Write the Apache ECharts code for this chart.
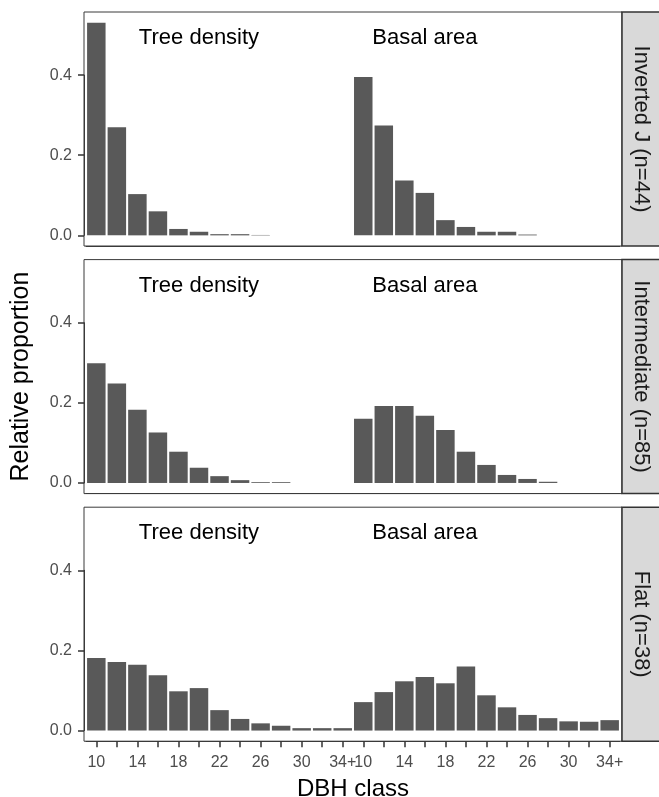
<!DOCTYPE html>
<html>
<head>
<meta charset="utf-8">
<script src="https://cdn.jsdelivr.net/npm/echarts@6/dist/echarts.min.js"></script>
<style>
  html, body { margin: 0; padding: 0; background: #fff; }
  #chart { width: 659px; height: 797px; }
</style>
</head>
<body>
<div id="chart"></div>
<script>
// DBH classes, repeated once for tree density and once for basal area
const dbhClasses = ['10', '12', '14', '16', '18', '20', '22', '24', '26', '28', '30', '32', '34+'];
const xLabels = dbhClasses.concat(dbhClasses);

const stripLabels = ['Inverted J (n=44)', 'Intermediate (n=85)', 'Flat (n=38)'];
const annoLabels = ['Tree density', 'Basal area'];
const yTicks = [0, 0.2, 0.4];

const invTree = [0.531, 0.270, 0.103, 0.060, 0.016, 0.009, 0.003, 0.003, 0.001, 0, 0, 0, 0];
const invBasal = [0.395, 0.274, 0.137, 0.106, 0.038, 0.021, 0.009, 0.009, 0.002, 0, 0, 0, 0];
const intTree = [0.299, 0.248, 0.183, 0.126, 0.078, 0.038, 0.017, 0.007, 0.002, 0.002, 0, 0, 0];
const intBasal = [0.160, 0.192, 0.192, 0.168, 0.132, 0.078, 0.045, 0.020, 0.010, 0.003, 0, 0, 0];
const flatTree = [0.181, 0.171, 0.164, 0.138, 0.098, 0.106, 0.051, 0.029, 0.018, 0.012, 0.006, 0.006, 0.006];
const flatBasal = [0.071, 0.096, 0.123, 0.134, 0.118, 0.160, 0.088, 0.058, 0.039, 0.031, 0.023, 0.022, 0.026];

const panels = [
  invTree.concat(invBasal),
  intTree.concat(intBasal),
  flatTree.concat(flatBasal)
];

// ggplot-like 5% expansion of the shared y range
const yMax0 = Math.max(...panels.map(d => Math.max(...d)));
const yMin = -0.05 * yMax0;
const yMax = 1.05 * yMax0;

const font = 'Liberation Sans, Arial, Helvetica, sans-serif';
const frameColor = '#3a3a3a';
const panelLeft = 84, panelWidth = 538, panelHeight = 234;
const band = panelWidth / (xLabels.length + 0.2);   // ggplot adds 0.6 band each side
const inset = band * 0.1;
const ppu = panelHeight / (yMax - yMin);             // pixels per unit on y
const tickTop = yTicks[yTicks.length - 1];
const annoY = 0.493;

const grid = [], xAxis = [], yAxis = [], series = [], graphic = [];

panels.forEach((vals, p) => {
  const top = 12 + 247.6 * p;
  const last = p === panels.length - 1;

  // frame (also carries the shared y title)
  grid.push({ left: panelLeft, top: top, width: panelWidth, height: panelHeight,
    outerBoundsMode: 'none',
    show: true, borderColor: frameColor, borderWidth: 1, backgroundColor: 'transparent' });
  xAxis.push({ gridIndex: grid.length - 1, type: 'value', show: false });
  yAxis.push({
    gridIndex: grid.length - 1, type: 'value', min: 0, max: 1,
    axisLine: { show: false }, axisTick: { show: false }, axisLabel: { show: false },
    splitLine: { show: false },
    name: p === 1 ? 'Relative proportion' : '',
    nameLocation: 'middle',
    nameGap: 50,
    nameTextStyle: { fontFamily: font, fontSize: 25, color: '#000' }
  });

  // data: grid spans 0 .. last tick on y, bars above it are not clipped
  const zeroY = top + yMax * ppu;
  grid.push({ left: panelLeft + inset, top: zeroY - tickTop * ppu,
    width: panelWidth - 2 * inset, height: tickTop * ppu, outerBoundsMode: 'none' });
  const di = grid.length - 1;
  xAxis.push({
    gridIndex: di,
    type: 'category',
    data: xLabels,
    offset: -yMin * ppu,
    axisLine: { show: true, onZero: false, lineStyle: { color: frameColor, width: 1 } },
    axisTick: { show: last, alignWithLabel: true, interval: 0, length: 6,
      lineStyle: { color: '#333', width: 1.5 } },
    axisLabel: {
      show: last,
      interval: (i) => (i < 13 ? i % 2 === 0 : (i - 13) % 2 === 0),
      fontFamily: font, fontSize: 16, color: '#4d4d4d', margin: 13
    },
    splitLine: { show: false },
    name: last ? 'DBH class' : '',
    nameLocation: 'middle',
    nameGap: 36,
    nameTextStyle: { fontFamily: font, fontSize: 24, color: '#000' }
  });
  yAxis.push({
    gridIndex: di,
    type: 'value',
    min: 0,
    max: tickTop,
    interval: 0.2,
    offset: inset,
    axisLine: { show: true, lineStyle: { color: frameColor, width: 1 } },
    axisTick: { show: true, length: 6, lineStyle: { color: '#333', width: 1.5 } },
    axisLabel: { formatter: (v) => v.toFixed(1),
      fontFamily: font, fontSize: 16, color: '#4d4d4d', margin: 12 },
    splitLine: { show: false }
  });
  series.push({
    type: 'bar',
    xAxisIndex: xAxis.length - 1,
    yAxisIndex: yAxis.length - 1,
    data: vals,
    barWidth: '90%',
    clip: false,
    itemStyle: { color: '#595959' },
    markPoint: {
      symbol: 'circle',
      symbolSize: 0,
      label: { show: true, position: 'inside', formatter: '{b}',
        offset: [0, -(annoY - tickTop) * ppu],
        fontFamily: font, fontSize: 22, color: '#000' },
      data: [
        { name: annoLabels[0], coord: [5, tickTop] },
        { name: annoLabels[1], coord: [16, tickTop] }
      ]
    }
  });

  // strip
  grid.push({ left: panelLeft + panelWidth, top: top, width: 40, height: panelHeight,
    outerBoundsMode: 'none',
    show: true, backgroundColor: '#d9d9d9', borderColor: '#333', borderWidth: 1.5 });
  xAxis.push({ gridIndex: grid.length - 1, type: 'value', show: false });
  yAxis.push({ gridIndex: grid.length - 1, type: 'value', show: false });
  graphic.push({
    type: 'text',
    x: panelLeft + panelWidth + 19,
    y: top + panelHeight / 2,
    rotation: -Math.PI / 2,
    style: { text: stripLabels[p], fontFamily: font, fontSize: 22, fill: '#1a1a1a',
      textAlign: 'center', textVerticalAlign: 'middle' }
  });
});

const chart = echarts.init(document.getElementById('chart'));
chart.setOption({
  animation: false,
  backgroundColor: '#fff',
  grid, xAxis, yAxis, series, graphic
});
</script>
</body>
</html>
